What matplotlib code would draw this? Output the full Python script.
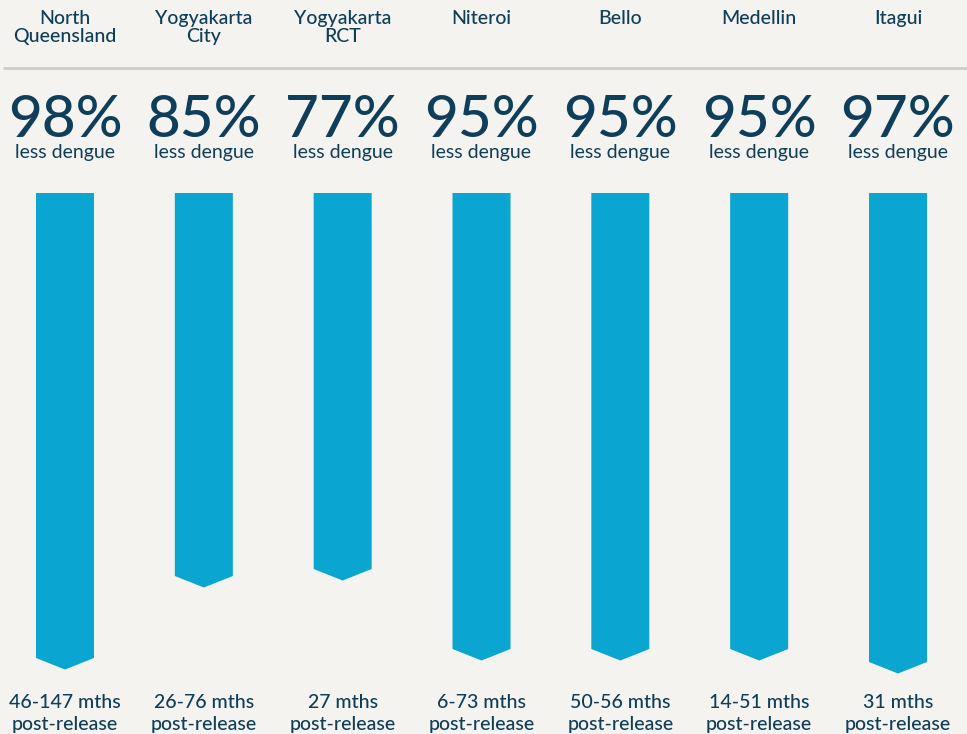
import matplotlib
matplotlib.use("Agg")
import matplotlib.pyplot as plt
from matplotlib.patches import Polygon

# --- data ------------------------------------------------------------------
sites = ["North\nQueensland", "Yogyakarta\nCity", "Yogyakarta\nRCT",
         "Niteroi", "Bello", "Medellin", "Itagui"]
reduction = [98, 85, 77, 95, 95, 95, 97]          # % less dengue
# bar length as drawn in the infographic (not proportional to the %)
bar_len = [465, 383, 376, 456, 456, 456, 469]
periods = ["46-147 mths", "26-76 mths", "27 mths", "6-73 mths",
           "50-56 mths", "14-51 mths", "31 mths"]

BG = "#f4f3ef"
INK = "#0e3e5a"
BAR = "#0aa5d1"
RULE = "#cdccc8"
FONT = "Lato"

W, H = 967, 734
fig = plt.figure(figsize=(W / 100, H / 100), dpi=100, facecolor=BG)
ax = fig.add_axes([0, 0, 1, 1])
ax.set_facecolor(BG)
step = 138.83                     # px between column centres
ax.set_xlim(-65 / step, 6 + (W - 898) / step)
ax.set_ylim(H, 0)                 # y measured downward from the top
ax.axis("off")

top = 193
half_w = 29 / step
tip = 11.5

ax.plot([3 / step - 65 / step, ax.get_xlim()[1]], [68, 68], color=RULE,
        lw=2, solid_capstyle="butt")

for i, (site, pct, ln, per) in enumerate(zip(sites, reduction, bar_len, periods)):
    pts = [(i - half_w, top), (i + half_w, top), (i + half_w, top + ln),
           (i, top + ln + tip), (i - half_w, top + ln)]
    ax.add_patch(Polygon(pts, closed=True, facecolor=BAR, edgecolor="none"))

    ax.text(i, 10, site, ha="center", va="top", fontsize=14, color=INK,
            family=FONT, fontweight="medium", linespacing=1.1)
    ax.text(i, 137, f"{pct}%", ha="center", va="baseline", fontsize=42,
            color=INK, family=FONT, fontweight="medium")
    ax.text(i, 158, "less dengue", ha="center", va="baseline", fontsize=14,
            color=INK, family=FONT)
    ax.text(i, 708, per, ha="center", va="baseline", fontsize=14,
            color=INK, family=FONT, fontweight="medium")
    ax.text(i, 730, "post-release", ha="center", va="baseline", fontsize=14,
            color=INK, family=FONT, fontweight="medium")

fig.savefig("out.png", dpi=100, facecolor=BG)
